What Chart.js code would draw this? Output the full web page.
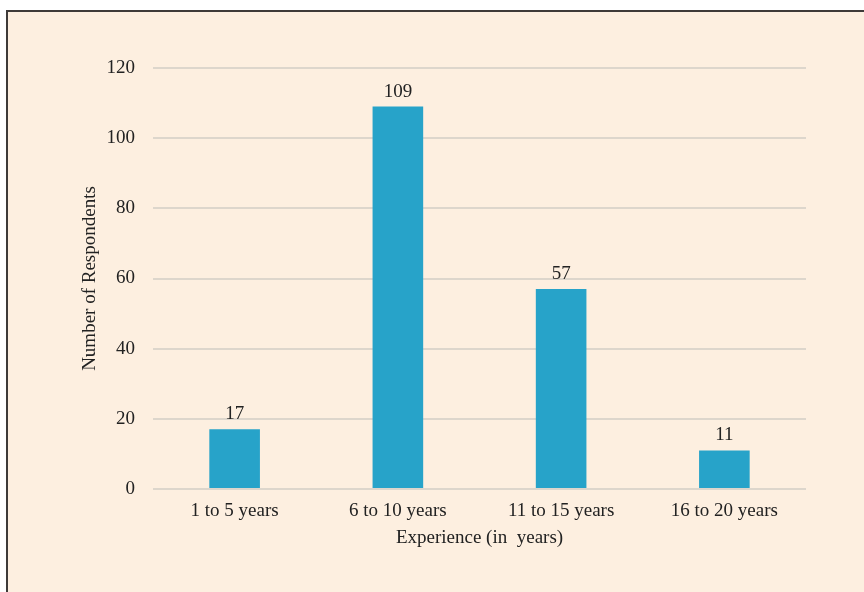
<!DOCTYPE html>
<html>
<head>
<meta charset="utf-8">
<script src="https://cdn.jsdelivr.net/npm/chart.js@4/dist/chart.umd.min.js"></script>
<style>
  html, body { margin: 0; padding: 0; background: #ffffff; }
  body { width: 864px; height: 592px; position: relative; overflow: hidden; }
  #frame {
    position: absolute; left: 6px; top: 10px;
    width: 856px; height: 580px;
    border-left: 2px solid #3e3a38; border-top: 2px solid #3e3a38;
    background: #fdefe0;
  }
  #c { display: block; }
</style>
</head>
<body>
<div id="frame"><canvas id="c" width="856" height="580"></canvas></div>
<script>
const categories = ["1 to 5 years", "6 to 10 years", "11 to 15 years", "16 to 20 years"];
const respondents = [17, 109, 57, 11];
const yTicks = [0, 20, 40, 60, 80, 100, 120];

const FONT = "'Liberation Serif', 'Times New Roman', serif";

const valueLabels = {
  id: 'valueLabels',
  afterDatasetsDraw(chart) {
    const ctx = chart.ctx;
    const meta = chart.getDatasetMeta(0);
    ctx.save();
    ctx.font = "19px " + FONT;
    ctx.fillStyle = "#222222";
    ctx.textAlign = "center";
    ctx.textBaseline = "alphabetic";
    meta.data.forEach((bar, i) => {
      ctx.fillText(String(chart.data.datasets[0].data[i]), bar.x, bar.y - 10);
    });
    ctx.restore();
  }
};

new Chart(document.getElementById('c'), {
  type: 'bar',
  data: {
    labels: categories,
    datasets: [{
      data: respondents,
      backgroundColor: '#27a3c9',
      borderWidth: 0,
      barPercentage: 0.31,
      categoryPercentage: 1.0
    }]
  },
  options: {
    responsive: false,
    animation: false,
    events: [],
    layout: { padding: { left: 67, right: 58, top: 56, bottom: 39 } },
    plugins: { legend: { display: false }, tooltip: { enabled: false } },
    scales: {
      x: {
        grid: { display: false, drawTicks: false },
        border: { display: false },
        ticks: { color: '#222222', font: { family: FONT, size: 19 }, padding: 11, maxRotation: 0 },
        title: { display: true, text: 'Experience (in  years)', color: '#222222',
                 font: { family: FONT, size: 19 }, padding: { top: 4, bottom: 4 } },
        afterFit(s) { s.height = 64; }
      },
      y: {
        min: 0, max: 120,
        afterBuildTicks(s) { s.ticks = yTicks.map(v => ({ value: v })); },
        grid: { color: '#ddd6cc', lineWidth: 2, drawTicks: false },
        border: { display: false },
        ticks: { color: '#222222', font: { family: FONT, size: 19 }, padding: 18 },
        title: { display: true, text: 'Number of Respondents', color: '#222222',
                 font: { family: FONT, size: 19 }, padding: { top: 4, bottom: 4 } },
        afterFit(s) { s.width = 78; }
      }
    }
  },
  plugins: [valueLabels]
});
</script>
</body>
</html>
